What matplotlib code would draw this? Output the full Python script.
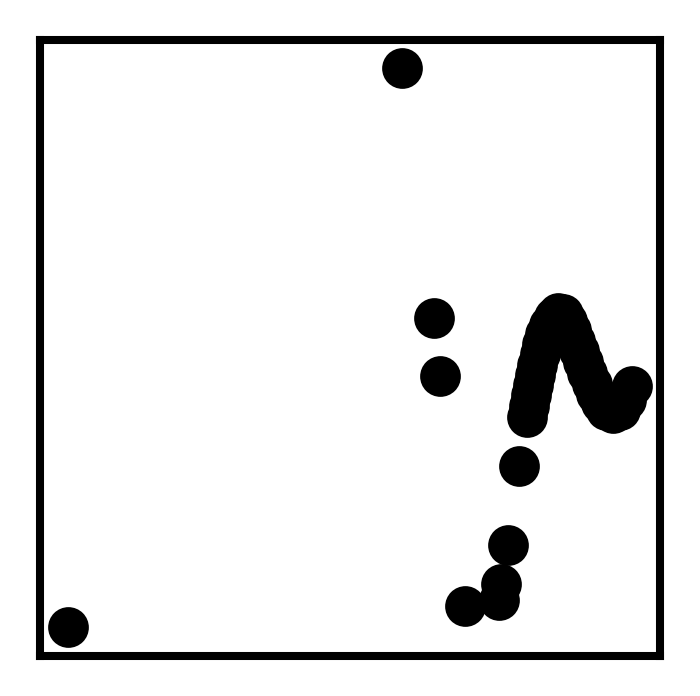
import matplotlib
matplotlib.use("Agg")
import matplotlib.pyplot as plt

# scattered points (data units)
x_pts = [58.4, 4.5, 63.5, 64.5, 77.3, 75.5, 74.4, 74.0, 68.5]
y_pts = [95.5, 4.7, 54.9, 45.5, 30.8, 18.0, 11.7, 9.1, 8.1]

# dense trajectory cluster (data units)
x_path = [78.5, 78.9, 79.2, 79.5, 79.8, 80.2, 80.6, 81.0, 81.5, 82.1, 82.9, 83.6,
          84.4, 85.0, 85.6, 86.3, 86.9, 87.6, 88.3, 89.0, 89.7, 90.5, 91.3,
          92.4, 93.5, 94.5, 95.5]
y_path = [38.8, 40.6, 42.4, 44.0, 45.6, 47.2, 49.0, 50.6, 52.3, 53.8, 55.0, 55.7,
          55.5, 54.4, 52.9, 51.2, 49.5, 47.7, 45.9, 44.2, 42.5, 41.0, 39.9,
          39.4, 40.0, 41.6, 43.9]

fig = plt.figure(figsize=(7.0, 6.96), dpi=100)
ax = fig.add_axes([40/700, 40/696, 620/700, 616/696])
ax.scatter(x_pts, y_pts, s=860, c='black', linewidths=0)
ax.scatter(x_path, y_path, s=860, c='black', linewidths=0)
ax.set_xlim(0, 100)
ax.set_ylim(0, 100)
ax.set_xticks([])
ax.set_yticks([])
for sp in ax.spines.values():
    sp.set_linewidth(5.8)
    sp.set_color('black')
fig.savefig("out.png", dpi=100)
